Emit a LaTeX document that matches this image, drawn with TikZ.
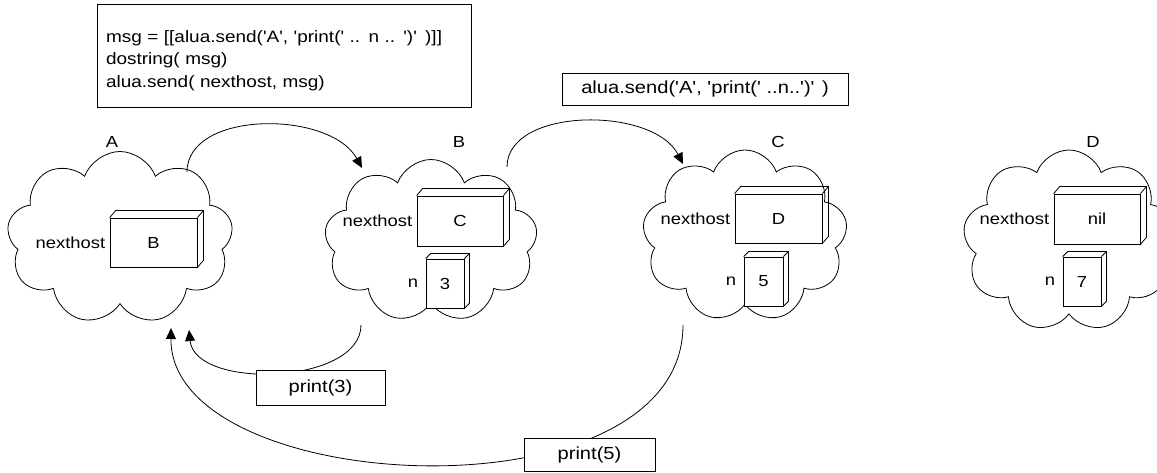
\documentclass[tikz,border=0pt]{standalone}
\usepackage{fontspec}
\setmainfont{Liberation Sans}[FakeStretch=1.15, Ligatures=TeXOff]
\usetikzlibrary{positioning, arrows.meta, shapes.symbols}

\newcommand{\hostfont}{\fontsize{16}{19}\selectfont}
\newcommand{\codefont}{\fontsize{17.5}{22.5}\selectfont}
% back faces of a 3d box
\newcommand{\boxdepth}[3]{%
  \draw (#1.north west) -- ++(#2,-#3) -- ([shift={(#2,-#3)}]#1.north east)
        -- ([shift={(#2,-#3)}]#1.south east) -- (#1.south east);
  \draw (#1.north east) -- ++(#2,-#3);
}

\begin{document}
\begin{tikzpicture}[x=1pt, y=-1pt, line width=0.8pt,
    host/.style={cloud, cloud puffs=9, cloud puff arc=140, cloud ignores aspect, draw},
    cube/.style={rectangle, draw, fill=white, inner sep=0pt, font=\hostfont},
    lbl/.style={font=\hostfont, inner sep=0pt},
    code/.style={rectangle, draw, fill=white, font=\codefont},
    arrow/.style={-{Triangle[length=11pt, width=10pt]}}
]
    \useasboundingbox (0,0) rectangle (1157,473);

    % Hosts
    \node[host, minimum width=226pt, minimum height=173pt] (hostA) at (120,238) {};
    \node[host, minimum width=213pt, minimum height=163pt] (hostB) at (431,241) {};
    \node[host, minimum width=205pt, minimum height=172pt] (hostC) at (745,236) {};
    \node[host, minimum width=212pt, minimum height=182pt] (hostD) at (1069,241) {};

    \node[lbl] (nameA) at (112,142) {A};
    \node[lbl] (nameB) at (459,142) {B};
    \node[lbl] (nameC) at (778,142) {C};
    \node[lbl] (nameD) at (1093,142) {D};

    % Variables
    \node[cube, minimum width=87pt, minimum height=49pt] (nextA) at (153.5,242.5) {B};
    \node[cube, minimum width=86pt, minimum height=50pt] (nextB) at (460,221) {C};
    \node[cube, minimum width=38pt, minimum height=49pt] (numB) at (445,283.5) {3};
    \node[cube, minimum width=87pt, minimum height=49pt] (nextC) at (778.5,218.5) {D};
    \node[cube, minimum width=39pt, minimum height=49pt] (numC) at (763.5,281.5) {5};
    \node[cube, minimum width=86pt, minimum height=50pt] (nextD) at (1097,219) {nil};
    \node[cube, minimum width=38pt, minimum height=49pt] (numD) at (1082,281.5) {7};

    \boxdepth{nextA}{6}{7}
    \boxdepth{nextB}{6}{7}
    \boxdepth{numB}{5}{5}
    \boxdepth{nextC}{6}{7}
    \boxdepth{numC}{5}{5}
    \boxdepth{nextD}{6}{7}
    \boxdepth{numD}{5}{5}

    \node[lbl, left=4pt of nextA] (nhA) {nexthost};
    \node[lbl, left=4pt of nextB] (nhB) {nexthost};
    \node[lbl, left=4pt of nextC] (nhC) {nexthost};
    \node[lbl, left=4pt of nextD] (nhD) {nexthost};
    \node[lbl, left=7pt of numB] (nB) {n};
    \node[lbl, left=7pt of numC] (nC) {n};
    \node[lbl, left=7pt of numD] (nD) {n};

    % Messages
    \draw[arrow] ([shift={(67,-66)}]hostA.center) .. controls +(0,-62) and +(-32,-58) .. ([shift={(-69,-73)}]hostB.center);
    \draw[arrow] ([shift={(76,-74)}]hostB.center) .. controls +(0,-60) and +(-30,-58) .. ([shift={(-62,-72)}]hostC.center);
    \draw[arrow] ([shift={(-70,84)}]hostB.center) .. controls +(0,60) and +(6,60) .. ([shift={(69,92)}]hostA.center);
    \draw[arrow] ([shift={(-62,89)}]hostC.center) .. controls +(0,198) and +(-1,170) .. ([shift={(51,90)}]hostA.center);

    % Labels
    \node[code, font=\fontsize{16.5}{22.5}\selectfont, text width=356pt, inner xsep=9pt, minimum height=103pt, align=left] (codebox) at (284,55.5)
        {\rule{0pt}{22pt}msg = [[alua.send('A', 'print(' .. n .. ')' )]]\\dostring( msg)\\alua.send( nexthost, msg)};
    \node[code, minimum width=286pt, minimum height=32pt] (sendbox) at (705,89) {alua.send('A', 'print(' ..n..')' )};
    \node[code, minimum width=129pt, minimum height=35pt] (print3) at (320.5,387.5) {print(3)};
    \node[code, minimum width=131pt, minimum height=33pt] (print5) at (589.5,454.5) {print(5)};
\end{tikzpicture}
\end{document}
